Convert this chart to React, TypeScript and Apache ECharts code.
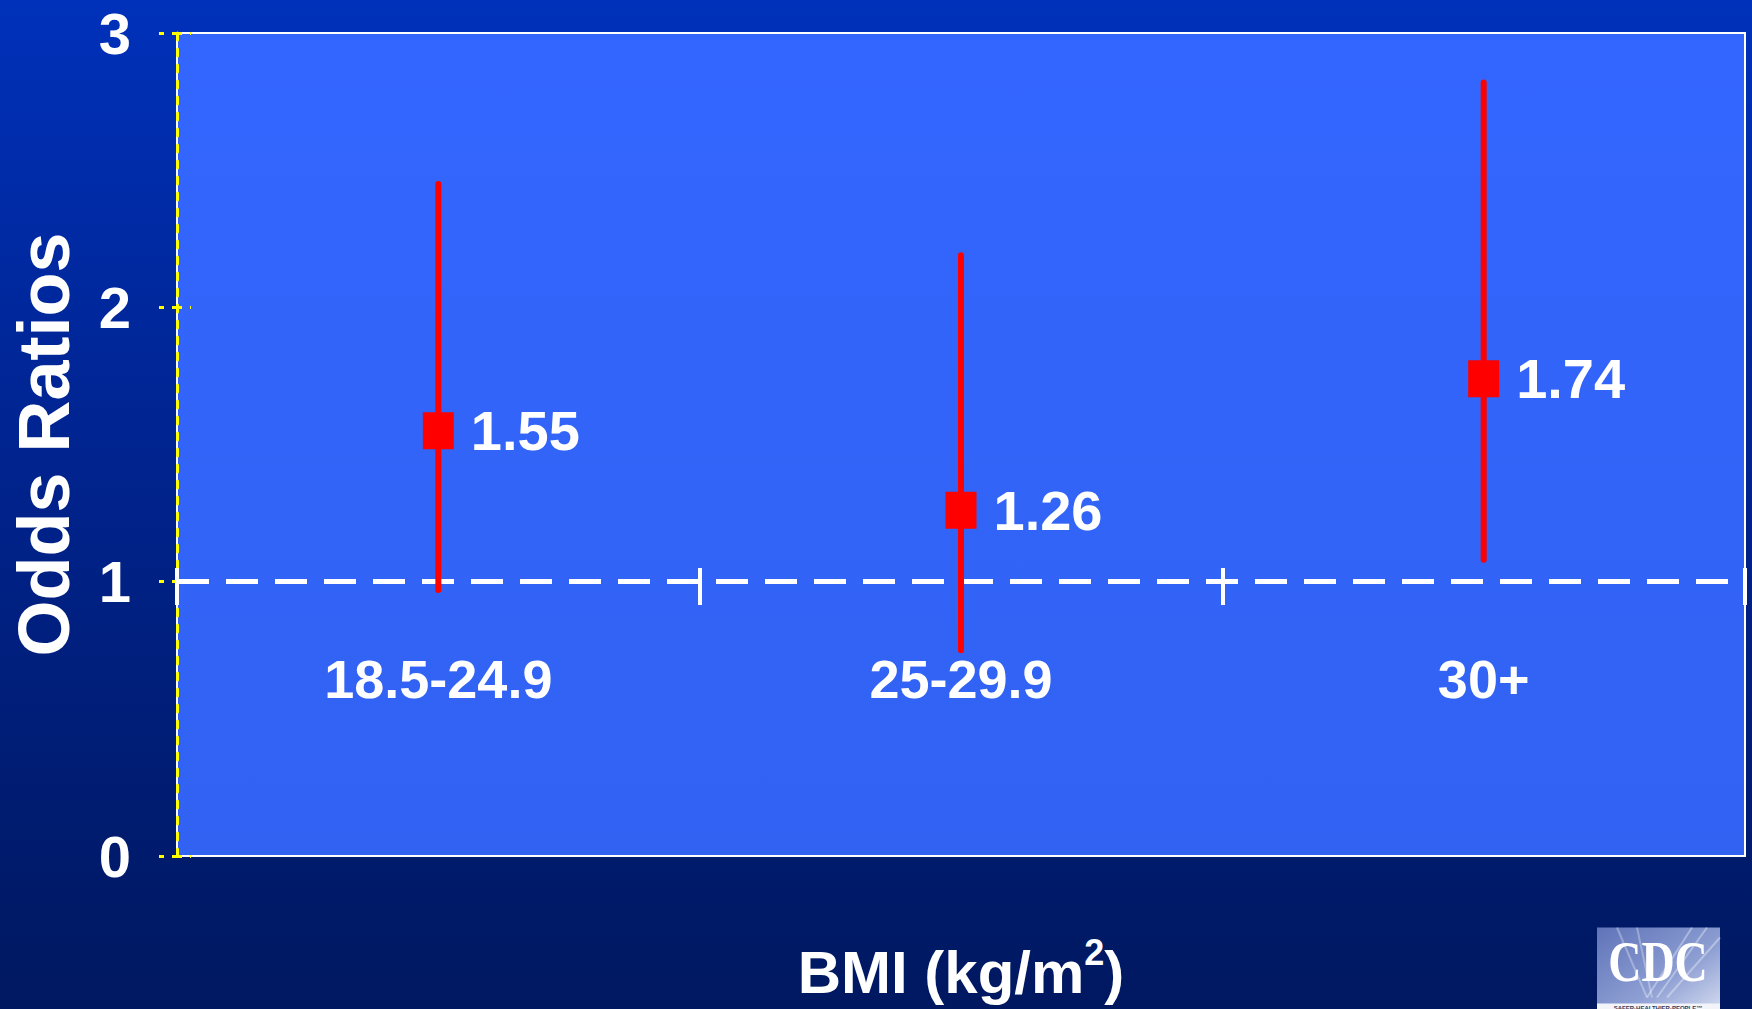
import React, { useEffect, useRef } from "react";
import * as echarts from "echarts";

const categories = ["18.5-24.9", "25-29.9", "30+"];
const oddsRatios = [1.55, 1.26, 1.74];
const ciLower = [0.97, 0.75, 1.08];
const ciUpper = [2.45, 2.19, 2.82];
const yTicks = [0, 1, 2, 3];

const NARROW = "'Liberation Sans Narrow', 'Arial Narrow', 'Liberation Sans', Arial, sans-serif";
const WIDE = "'Liberation Sans', Arial, sans-serif";

export default function App() {
  const ref = useRef<HTMLDivElement>(null);
  useEffect(() => {
    if (!ref.current) return;
    const chart = echarts.init(ref.current, undefined, { renderer: "svg" });
    const whiskers = categories.map((c, i) => [i, ciLower[i], ciUpper[i]]);
    const points = categories.map((c, i) => [i, oddsRatios[i]]);
    chart.setOption({
      animation: false,
      backgroundColor: {
        type: "linear", x: 0, y: 0, x2: 0, y2: 1,
        colorStops: [
          { offset: 0, color: "#0031BA" },
          { offset: 0.5, color: "#00228A" },
          { offset: 1, color: "#001860" },
        ],
      },
      grid: {
        left: 176, top: 33, width: 1569, height: 823,
        show: true,
        borderColor: "#FFFFFF",
        borderWidth: 2,
        backgroundColor: {
          type: "linear", x: 0, y: 0, x2: 0, y2: 1,
          colorStops: [
            { offset: 0, color: "#3366FF" },
            { offset: 1, color: "#3162F2" },
          ],
        },
      },
      xAxis: [
        {
          type: "category",
          data: categories,
          position: "bottom",
          offset: -288,
          axisLine: { show: false },
          axisTick: { show: true, length: 37, lineStyle: { color: "#FFFFFF", width: 4 } },
          axisLabel: {
            color: "#FFFFFF", fontSize: 54, fontWeight: "bold", fontFamily: NARROW, margin: 84,
          },
          splitLine: { show: false },
          name: "{a|BMI (kg/m}{s|2}{a|)}",
          nameLocation: "middle",
          nameGap: 366,
          nameTextStyle: {
            color: "#FFFFFF",
            rich: {
              a: { fontSize: 60, fontWeight: "bold", fontFamily: NARROW, color: "#FFFFFF", lineHeight: 76 },
              s: { fontSize: 36, fontWeight: "bold", fontFamily: NARROW, color: "#FFFFFF", verticalAlign: "top" },
            },
          },
        },
      ],
      yAxis: [
        {
          type: "value",
          min: yTicks[0],
          max: yTicks[yTicks.length - 1],
          interval: 1,
          position: "left",
          axisLine: { show: true, lineStyle: { color: "#FFFF00", width: 3, type: [7, 9] } },
          axisTick: { show: true, length: 18, lineStyle: { color: "#FFFF00", width: 3, type: [5, 8] } },
          axisLabel: { color: "#FFFFFF", fontSize: 58, fontWeight: "bold", fontFamily: NARROW, margin: 46 },
          splitLine: { show: false },
          name: "Odds Ratios",
          nameLocation: "middle",
          nameRotate: 90,
          nameGap: 97,
          nameTextStyle: { color: "#FFFFFF", fontSize: 72, fontWeight: "bold", fontFamily: WIDE },
        },
        {
          type: "value",
          min: yTicks[0],
          max: yTicks[yTicks.length - 1],
          interval: 1,
          position: "left",
          offset: 0,
          axisLine: { show: false },
          axisTick: { show: true, inside: true, length: 14, lineStyle: { color: "#FFFF00", width: 3, type: [5, 8] } },
          axisLabel: { show: false },
          splitLine: { show: false },
        },
      ],
      graphic: [
        {
          type: "group",
          left: 1597,
          top: 925,
          children: [
            {
              type: "rect",
              shape: { x: 0, y: 0, width: 123, height: 84 },
              style: {
                fill: {
                  type: "linear", x: 0, y: 0, x2: 1, y2: 1,
                  colorStops: [
                    { offset: 0, color: "#5F73B8" },
                    { offset: 0.6, color: "#8E9FD3" },
                    { offset: 1, color: "#D6DDF0" },
                  ],
                },
              },
            },
            { type: "line", shape: { x1: 95, y1: 0, x2: 50, y2: 70 }, style: { stroke: "rgba(255,255,255,0.35)", lineWidth: 2 } },
            { type: "line", shape: { x1: 110, y1: 0, x2: 60, y2: 70 }, style: { stroke: "rgba(255,255,255,0.35)", lineWidth: 2 } },
            { type: "line", shape: { x1: 123, y1: 10, x2: 70, y2: 70 }, style: { stroke: "rgba(255,255,255,0.35)", lineWidth: 2 } },
            { type: "line", shape: { x1: 20, y1: 0, x2: 50, y2: 70 }, style: { stroke: "rgba(255,255,255,0.3)", lineWidth: 2 } },
            { type: "line", shape: { x1: 40, y1: 0, x2: 55, y2: 70 }, style: { stroke: "rgba(255,255,255,0.3)", lineWidth: 2 } },
            {
              type: "text",
              x: 61,
              y: 5,
              scaleY: 1.25,
              style: {
                text: "CDC",
                fill: "#FFFFFF",
                fontSize: 46,
                fontWeight: "bold",
                fontFamily: "'Liberation Serif', 'DejaVu Serif', serif",
                align: "center",
                verticalAlign: "top",
              },
            },
            { type: "rect", shape: { x: 0, y: 76, width: 123, height: 8 }, style: { fill: "#F2F4FA" } },
            {
              type: "text",
              x: 61,
              y: 77,
              style: {
                text: "SAFER·HEALTHIER·PEOPLE™",
                fill: "#333A5A",
                fontSize: 6,
                fontWeight: "bold",
                fontFamily: WIDE,
                align: "center",
                verticalAlign: "top",
              },
            },
          ],
        },
      ],
      series: [
        {
          type: "line",
          data: [],
          silent: true,
          markLine: {
            silent: true,
            z: 1,
            symbol: ["none", "none"],
            label: { show: false },
            lineStyle: { color: "#FFFFFF", width: 5, type: [32, 17] },
            data: [{ yAxis: 1 }],
          },
        },
        {
          type: "custom",
          z: 3,
          data: whiskers,
          encode: { x: 0, y: [1, 2] },
          renderItem: (params: any, api: any) => {
            const x = api.value(0);
            const lo = api.coord([x, api.value(1)]);
            const hi = api.coord([x, api.value(2)]);
            return {
              type: "line",
              shape: { x1: lo[0], y1: lo[1], x2: hi[0], y2: hi[1] },
              style: { stroke: "#FF0000", lineWidth: 6, lineCap: "round" },
            };
          },
        },
        {
          type: "scatter",
          z: 4,
          data: points,
          symbol: "rect",
          symbolSize: [31, 37],
          itemStyle: { color: "#FF0000", opacity: 1 },
          label: {
            show: true,
            position: "right",
            distance: 17,
            formatter: (p: any) => p.value[1].toFixed(2),
            color: "#FFFFFF",
            fontSize: 56,
            fontWeight: "bold",
            fontFamily: NARROW,
          },
        },
      ],
    });
    return () => chart.dispose();
  }, []);
  return (
    <div
      ref={ref}
      style={{ position: "fixed", left: 0, top: 0, width: 1752, height: 1009 }}
    />
  );
}
